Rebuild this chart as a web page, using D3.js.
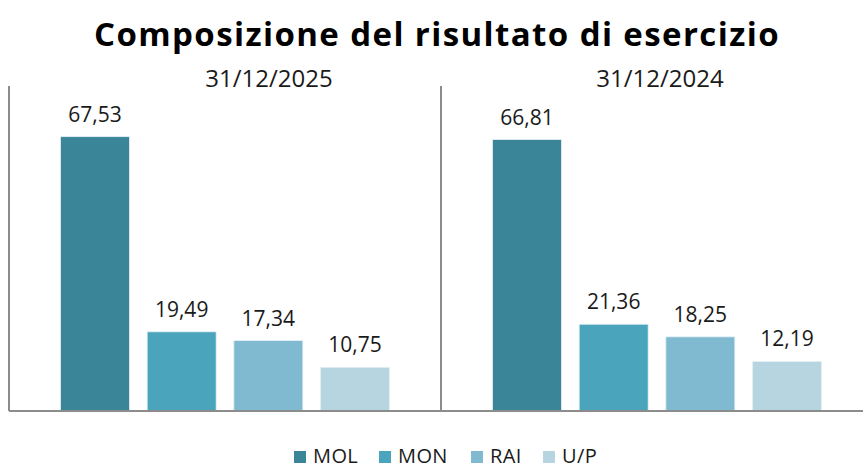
<!DOCTYPE html>
<html>
<head>
<meta charset="utf-8">
<script src="https://d3js.org/d3.v7.min.js"></script>
<title>Composizione del risultato di esercizio</title>
<style>
  body { margin: 0; background: #fff; }
  svg text { font-family: "Open Sans", "Noto Sans", sans-serif; fill: #1a1a1a; }
</style>
</head>
<body>
<div id="chart"></div>
<script>
// data
var periods = ["31/12/2025", "31/12/2024"];
var categories = ["MOL", "MON", "RAI", "U/P"];
var values2025 = [67.53, 19.49, 17.34, 10.75];
var values2024 = [66.81, 21.36, 18.25, 12.19];
var colors = ["#3a8698", "#4aa4bc", "#7fbad0", "#b7d5e1"];

var width = 863, height = 469;
var svg = d3.select("#chart").append("svg")
    .attr("width", width)
    .attr("height", height);

// title
svg.append("text")
    .attr("x", 437)
    .attr("y", 46)
    .attr("text-anchor", "middle")
    .style("font-size", "33px")
    .style("font-weight", "bold")
    .style("letter-spacing", "1.4px")
    .style("fill", "#000")
    .text("Composizione del risultato di esercizio");

var panelW = 432, panelTop = 86, panelBottom = 411;
var panels = [
  { label: periods[0], values: values2025, x0: 9, labelX: 260 },
  { label: periods[1], values: values2024, x0: 441, labelX: 219 }
];

var y = d3.scaleLinear().domain([0, 80]).range([panelBottom, panelTop]);
var x = d3.scaleBand().domain(categories).range([0, panelW])
    .paddingInner(0.204).paddingOuter(0.594);
var fmt = function (v) { return d3.format(".2f")(v).replace(".", ","); };

panels.forEach(function (p) {
  var g = svg.append("g").attr("transform", "translate(" + p.x0 + ",0)");

  g.selectAll("rect").data(p.values).enter()
    .append("rect")
    .attr("x", function (d, i) { return x(categories[i]); })
    .attr("y", function (d) { return y(d); })
    .attr("width", x.bandwidth())
    .attr("height", function (d) { return y(0) - y(d); })
    .attr("fill", function (d, i) { return colors[i]; })
    .attr("stroke", "#e4f0f4")
    .attr("stroke-width", 0.8);

  g.selectAll(".val").data(p.values).enter()
    .append("text")
    .attr("class", "val")
    .attr("x", function (d, i) { return x(categories[i]) + x.bandwidth() / 2; })
    .attr("y", function (d) { return y(d) - 15; })
    .attr("text-anchor", "middle")
    .style("font-size", "21px")
    .text(fmt);

  g.append("text")
    .attr("x", p.labelX)
    .attr("y", 87)
    .attr("text-anchor", "middle")
    .style("font-size", "24px")
    .text(p.label);

  // axis lines
  g.append("line")
    .attr("x1", 0).attr("x2", 0)
    .attr("y1", panelTop).attr("y2", panelBottom)
    .attr("stroke", "#8c8c8c").attr("stroke-width", 2);
  g.append("line")
    .attr("x1", 0).attr("x2", panelW)
    .attr("y1", panelBottom).attr("y2", panelBottom)
    .attr("stroke", "#8c8c8c").attr("stroke-width", 2);
});

// legend
var legendX = [294, 379, 471, 543];
var lg = svg.append("g");
categories.forEach(function (c, i) {
  lg.append("rect")
    .attr("x", legendX[i]).attr("y", 451)
    .attr("width", 12).attr("height", 12)
    .attr("fill", colors[i]);
  lg.append("text")
    .attr("x", legendX[i] + 19).attr("y", 463)
    .style("font-size", "20px")
    .style("letter-spacing", "0.4px")
    .text(c);
});
</script>
</body>
</html>
